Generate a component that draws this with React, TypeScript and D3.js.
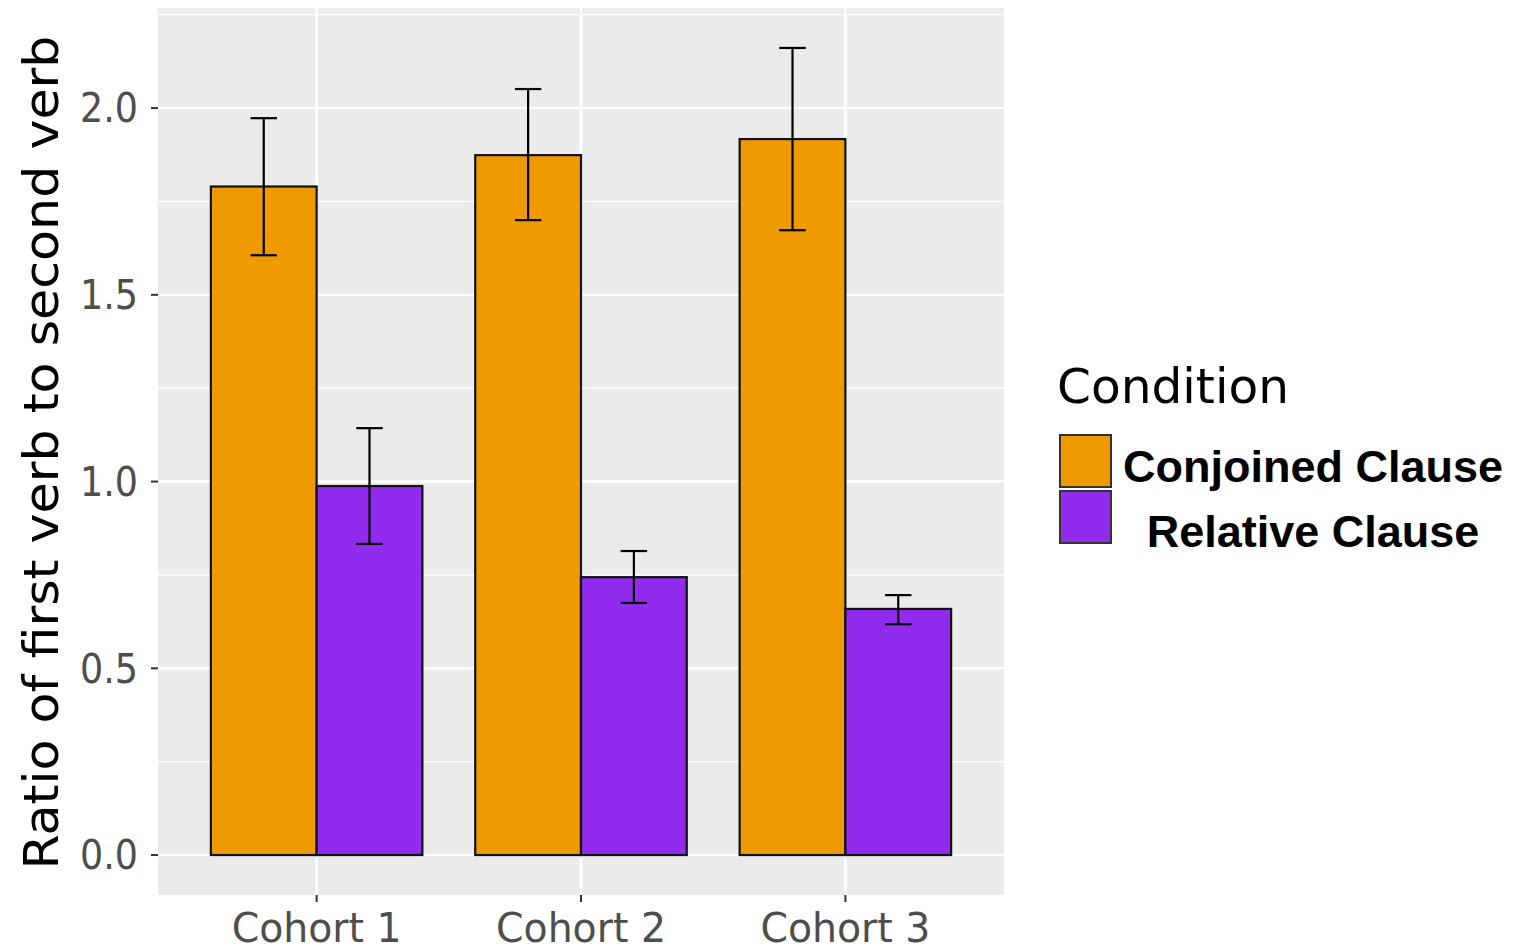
import React from "react";
import * as d3 from "d3";

const cohorts = ["Cohort 1", "Cohort 2", "Cohort 3"];
const conditions = ["Conjoined Clause", "Relative Clause"];
const conjoinedMean = [1.79, 1.874, 1.917];
const conjoinedLow = [1.606, 1.70, 1.673];
const conjoinedHigh = [1.973, 2.051, 2.161];
const relativeMean = [0.988, 0.744, 0.659];
const relativeLow = [0.833, 0.675, 0.618];
const relativeHigh = [1.143, 0.814, 0.696];
const yTicks = [0, 0.5, 1.0, 1.5, 2.0];
const yMinor = [0.25, 0.75, 1.25, 1.75, 2.25];
const colors = ["#EE9A00", "#912CEE"];

const W = 1517;
const H = 949;
const panel = { left: 158, right: 1004, top: 8, bottom: 895 };

export default function App() {
  const y = d3.scaleLinear().domain([-0.107, 2.268]).range([panel.bottom, panel.top]);
  const x = d3.scalePoint<string>().domain(cohorts).range([panel.left, panel.right]).padding(0.6);
  const step = x.step();
  const center = (c: string) => x(c) as number;
  const groupW = step * 0.8;
  const sub = d3.scaleBand<string>().domain(conditions).range([-groupW / 2, groupW / 2]);
  const series = [
    { mean: conjoinedMean, lo: conjoinedLow, hi: conjoinedHigh },
    { mean: relativeMean, lo: relativeLow, hi: relativeHigh },
  ];
  const tickFont = "'DejaVu Sans', 'Open Sans', sans-serif";
  return (
    <svg width={W} height={H} style={{ position: "absolute", left: 0, top: 0, background: "#fff" }}>
      <rect x={panel.left} y={panel.top} width={panel.right - panel.left} height={panel.bottom - panel.top} fill="#EBEBEB" />
      {yMinor.filter((v) => y(v) > panel.top).map((v) => (
        <line key={"mn" + v} x1={panel.left} x2={panel.right} y1={y(v)} y2={y(v)} stroke="#fff" strokeWidth={1.2} />
      ))}
      {yTicks.map((v) => (
        <line key={"mj" + v} x1={panel.left} x2={panel.right} y1={y(v)} y2={y(v)} stroke="#fff" strokeWidth={2.4} />
      ))}
      {cohorts.map((c) => (
        <line key={"vx" + c} x1={center(c)} x2={center(c)} y1={panel.top} y2={panel.bottom} stroke="#fff" strokeWidth={2.4} />
      ))}
      {series.map((s, si) =>
        cohorts.map((c, ci) => {
          const bx = center(c) + (sub(conditions[si]) as number);
          const bw = sub.bandwidth();
          return (
            <rect key={"b" + si + ci} x={bx} y={y(s.mean[ci])} width={bw} height={y(0) - y(s.mean[ci])} fill={colors[si]} stroke="#111" strokeWidth={2.2} />
          );
        })
      )}
      {series.map((s, si) =>
        cohorts.map((c, ci) => {
          const bw = sub.bandwidth();
          const cx = center(c) + (sub(conditions[si]) as number) + bw / 2;
          const cap = bw * 0.125;
          return (
            <g key={"e" + si + ci} stroke="#000" strokeWidth={2.2}>
              <line x1={cx} x2={cx} y1={y(s.lo[ci])} y2={y(s.hi[ci])} />
              <line x1={cx - cap} x2={cx + cap} y1={y(s.hi[ci])} y2={y(s.hi[ci])} />
              <line x1={cx - cap} x2={cx + cap} y1={y(s.lo[ci])} y2={y(s.lo[ci])} />
            </g>
          );
        })
      )}
      {yTicks.map((v) => (
        <g key={"yt" + v}>
          <line x1={panel.left - 7} x2={panel.left} y1={y(v)} y2={y(v)} stroke="#333" strokeWidth={2} />
          <text x={panel.left - 20} y={y(v)} dy="0.36em" textAnchor="end" fontFamily={tickFont} fontSize={40} fill="#4D4D4D" textLength={58} lengthAdjust="spacingAndGlyphs">
            {d3.format(".1f")(v)}
          </text>
        </g>
      ))}
      {cohorts.map((c) => (
        <g key={"xt" + c}>
          <line x1={center(c)} x2={center(c)} y1={panel.bottom} y2={panel.bottom + 7} stroke="#333" strokeWidth={2} />
          <text x={center(c)} y={942} textAnchor="middle" fontFamily={tickFont} fontSize={40} fill="#4D4D4D" textLength={170} lengthAdjust="spacingAndGlyphs">
            {c}
          </text>
        </g>
      ))}
      <text transform={`translate(58, ${(35 + 870) / 2}) rotate(-90)`} textAnchor="middle" fontFamily={tickFont} fontSize={48} fill="#000" textLength={834} lengthAdjust="spacingAndGlyphs">
        Ratio of first verb to second verb
      </text>
      <text x={1057} y={403} fontFamily={tickFont} fontSize={48} fill="#000" textLength={232} lengthAdjust="spacingAndGlyphs">
        Condition
      </text>
      {conditions.map((cnd, i) => (
        <g key={"lg" + i}>
          <rect x={1060} y={435 + i * 56} width={51} height={52} fill={colors[i]} stroke="#333" strokeWidth={2} />
          <text x={1313} y={482 + i * 65} textAnchor="middle" fontFamily="'Liberation Sans', Arial, sans-serif" fontWeight="bold" fontSize={45} fill="#000">
            {cnd}
          </text>
        </g>
      ))}
    </svg>
  );
}
